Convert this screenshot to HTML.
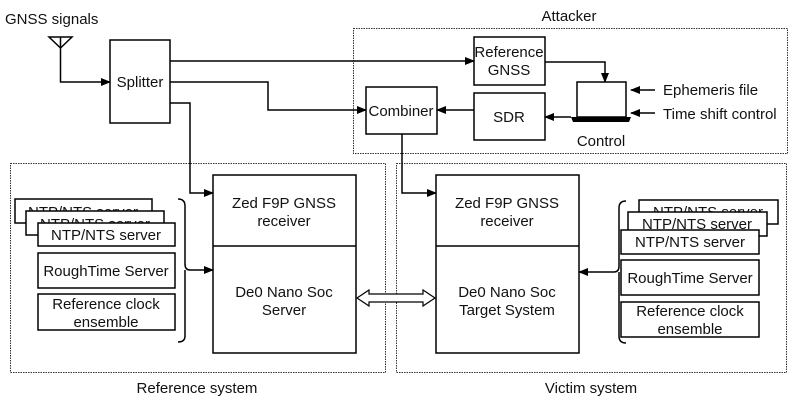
<!DOCTYPE html>
<html><head><style>
body{margin:0;background:#fff}
svg text{font-family:"Liberation Sans",sans-serif;font-size:15px;fill:#111}
</style></head><body>
<svg width="789" height="401" viewBox="0 0 789 401" xmlns="http://www.w3.org/2000/svg">
<defs>
<marker id="a" markerWidth="10" markerHeight="8" refX="9" refY="4" orient="auto" markerUnits="userSpaceOnUse"><path d="M0,0 L10,4 L0,8 Z" fill="#000"/></marker>
</defs>
<g fill="none" stroke="#333" stroke-width="1" stroke-dasharray="1.5,1">
<rect x="353.5" y="28.5" width="434" height="125"/>
<rect x="10.5" y="163.5" width="375" height="209"/>
<rect x="396.5" y="163.5" width="390" height="209"/>
</g>
<text x="5" y="24">GNSS signals</text>
<text x="569" y="21" text-anchor="middle">Attacker</text>
<text x="197" y="393" text-anchor="middle">Reference system</text>
<text x="591" y="393" text-anchor="middle">Victim system</text>
<g fill="#fff" stroke="#000" stroke-width="1.5">
<path d="M49,37 L72,37 L60.5,48 Z"/>
<rect x="110" y="40" width="60" height="83"/>
<rect x="474" y="37" width="71" height="48"/>
<rect x="474" y="93" width="71" height="47"/>
<rect x="366" y="87" width="71" height="47"/>
<rect x="577" y="82" width="49" height="35"/>
<rect x="213" y="175" width="143" height="178"/>
<line x1="213" y1="246" x2="356" y2="246"/>
<rect x="436" y="175" width="143" height="178"/>
<line x1="436" y1="246" x2="579" y2="246"/>
</g>
<g fill="#fff" stroke="#000" stroke-width="1.5">
<rect x="15" y="199" width="137" height="24"/>
</g>
<text x="83" y="217" text-anchor="middle">NTP/NTS server</text>
<rect x="26" y="211" width="138" height="24" fill="#fff" stroke="#000" stroke-width="1.5"/>
<text x="95" y="229" text-anchor="middle">NTP/NTS server</text>
<rect x="38" y="223" width="137" height="23" fill="#fff" stroke="#000" stroke-width="1.5"/>
<rect x="639" y="200" width="139" height="24" fill="#fff" stroke="#000" stroke-width="1.5"/>
<text x="708" y="217" text-anchor="middle">NTP/NTS server</text>
<rect x="628" y="212" width="139" height="24" fill="#fff" stroke="#000" stroke-width="1.5"/>
<text x="697" y="229" text-anchor="middle">NTP/NTS server</text>
<g fill="#fff" stroke="#000" stroke-width="1.5">
<rect x="621" y="230" width="138" height="24"/>
<rect x="38" y="253" width="137" height="35"/>
<rect x="38" y="294" width="137" height="36"/>
<rect x="621" y="260" width="138" height="35"/>
<rect x="621" y="302" width="138" height="35"/>
</g>
<path d="M571,117 L631,117 L629,122 L573,122 Z" fill="#000"/>
<g fill="none" stroke="#000" stroke-width="1.5">
<path d="M60.5,37 V82 H110" marker-end="url(#a)"/>
<path d="M170,61 H474" marker-end="url(#a)"/>
<path d="M170,82 H268 V110 H366" marker-end="url(#a)"/>
<path d="M170,103 H190 V193 H213" marker-end="url(#a)"/>
<path d="M545,62 H605 V82" marker-end="url(#a)"/>
<path d="M571,117 H545" marker-end="url(#a)"/>
<path d="M474,110 H437" marker-end="url(#a)"/>
<path d="M655,90 H631" marker-end="url(#a)"/>
<path d="M655,113 H631" marker-end="url(#a)"/>
<path d="M402,134 V193 H436" marker-end="url(#a)"/>
<path d="M178,199 Q185,199 185,206 V264 Q185,270 190,270 H213" marker-end="url(#a)"/>
<path d="M185,270 V336 Q185,342 178,342"/>
<path d="M626,201 Q619,201 619,208 V266 Q619,272 614,272 H579" marker-end="url(#a)"/>
<path d="M619,272 V336 Q619,343 626,343"/>
</g>
<path d="M357,298 L369,290 V294 H423 V290 L435,298 L423,306 V302 H369 V306 Z" fill="#fff" stroke="#000" stroke-width="1.2"/>
<text x="140" y="87" text-anchor="middle">Splitter</text>
<text x="509" y="57" text-anchor="middle">Reference</text>
<text x="509" y="75" text-anchor="middle">GNSS</text>
<text x="509" y="122" text-anchor="middle">SDR</text>
<text x="401" y="116" text-anchor="middle">Combiner</text>
<text x="663" y="95">Ephemeris file</text>
<text x="663" y="119">Time shift control</text>
<text x="601" y="146" text-anchor="middle">Control</text>
<text x="284" y="208" text-anchor="middle">Zed F9P GNSS</text>
<text x="284" y="226" text-anchor="middle">receiver</text>
<text x="284" y="297" text-anchor="middle">De0 Nano Soc</text>
<text x="284" y="315" text-anchor="middle">Server</text>
<text x="507" y="208" text-anchor="middle">Zed F9P GNSS</text>
<text x="507" y="226" text-anchor="middle">receiver</text>
<text x="507" y="297" text-anchor="middle">De0 Nano Soc</text>
<text x="507" y="315" text-anchor="middle">Target System</text>
<text x="106" y="240" text-anchor="middle">NTP/NTS server</text>
<text x="106" y="276" text-anchor="middle">RoughTime Server</text>
<text x="106" y="309" text-anchor="middle">Reference clock</text>
<text x="106" y="327" text-anchor="middle">ensemble</text>
<text x="690" y="247" text-anchor="middle">NTP/NTS server</text>
<text x="690" y="283" text-anchor="middle">RoughTime Server</text>
<text x="690" y="316" text-anchor="middle">Reference clock</text>
<text x="690" y="334" text-anchor="middle">ensemble</text>
</svg>
</body></html>
